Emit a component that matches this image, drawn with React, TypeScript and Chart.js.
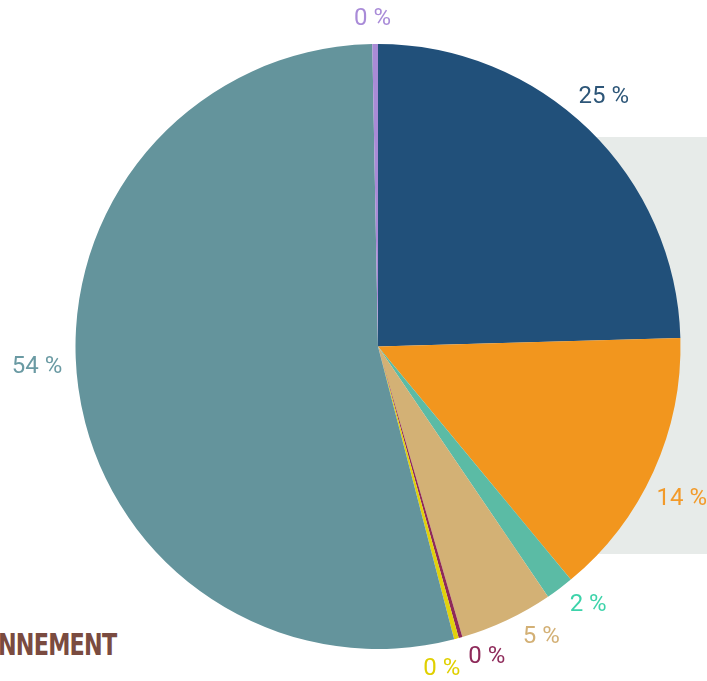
import React, { useEffect, useRef } from "react";
import { Chart, registerables } from "chart.js";

Chart.register(...registerables);

const categories = ["A", "B", "C", "D", "E", "F", "G", "H"];
const values = [24.55, 14.45, 1.5, 5.0, 0.2, 0.25, 53.75, 0.3];
const sliceColors = ["#21507a", "#f2961e", "#5bbba5", "#d3b175", "#8f2a59", "#e1d10c", "#64949c", "#a98bd6"];
const labelColors = ["#2d5678", "#f29a2a", "#3dd3aa", "#d3b075", "#8e2a5a", "#e0d000", "#6a9aa3", "#a98bd8"];
// label placement tweaks: angle shift from slice middle (deg), distance beyond outer radius (px)
const labelAngleShift = [-2.2, 2.1, -2.3, -4.2, -3.5, 3.8, 4.5, -0.4];
const labelDistance = [35, 37, 30, 30, 26, 25, 39, 26];

const labelPlugin = {
  id: "outerLabels",
  afterDatasetsDraw(chart: any) {
    const ctx = chart.ctx;
    const meta = chart.getDatasetMeta(0);
    const data = chart.data.datasets[0].data as number[];
    const total = data.reduce((a, b) => a + b, 0);
    ctx.save();
    ctx.font = "400 24px Roboto";
    ctx.textAlign = "center";
    ctx.textBaseline = "middle";
    meta.data.forEach((arc: any, i: number) => {
      const p = arc.getProps(["x", "y", "startAngle", "endAngle", "outerRadius"], true);
      const mid = (p.startAngle + p.endAngle) / 2 + (labelAngleShift[i] * Math.PI) / 180;
      const d = p.outerRadius + labelDistance[i];
      const x = p.x + Math.cos(mid) * d;
      const y = p.y + Math.sin(mid) * d;
      ctx.fillStyle = labelColors[i];
      ctx.fillText(Math.round((data[i] / total) * 100) + " %", x, y + 1);
    });
    ctx.restore();
  },
};

export default function App() {
  const ref = useRef<HTMLCanvasElement>(null);
  useEffect(() => {
    const chart = new Chart(ref.current!, {
      type: "pie",
      data: {
        labels: categories,
        datasets: [{ data: values, backgroundColor: sliceColors, borderWidth: 0 }],
      },
      options: {
        responsive: false,
        animation: false,
        layout: { padding: { left: 75, right: 26, top: 44, bottom: 32 } },
        plugins: { legend: { display: false }, tooltip: { enabled: false } },
      },
      plugins: [labelPlugin],
    });
    return () => chart.destroy();
  }, []);
  return (
    <div style={{ position: "fixed", left: 0, top: 0, width: 707, height: 681, background: "#fff", overflow: "hidden" }}>
      <div style={{ position: "absolute", left: 500, top: 137, width: 207, height: 417, background: "#e7ebe9" }} />
      <div
        style={{
          position: "absolute",
          left: -2,
          top: 626,
          font: "bold 31px 'DejaVu Sans Condensed', 'Liberation Sans Narrow', sans-serif",
          color: "#7a4b40",
          letterSpacing: -1,
          whiteSpace: "nowrap",
          transform: "scaleX(0.8)",
          transformOrigin: "left top",
        }}
      >
        NNEMENT
      </div>
      <canvas ref={ref} width={707} height={681} style={{ position: "absolute", left: 0, top: 0 }} />
    </div>
  );
}
